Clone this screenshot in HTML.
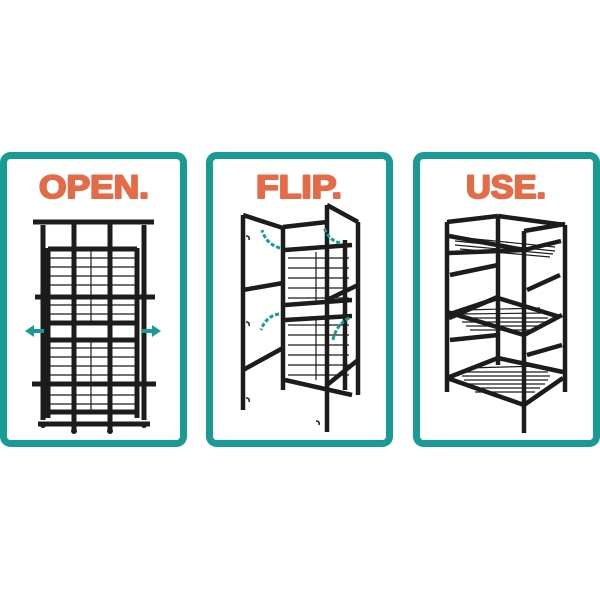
<!DOCTYPE html>
<html><head><style>
html,body{margin:0;padding:0;background:#fff;}
body{width:600px;height:600px;overflow:hidden;}
</style></head><body>
<svg width="600" height="600" viewBox="0 0 600 600" xmlns="http://www.w3.org/2000/svg">
<rect width="600" height="600" fill="#fff"/>
<g fill="none" stroke="#1a9a94" stroke-width="7">
<rect x="3.5" y="155.5" width="180" height="288" rx="7"/>
<rect x="209.5" y="155.5" width="180" height="288" rx="7"/>
<rect x="416.5" y="155.5" width="180" height="288" rx="7"/>
</g>
<g font-family="Liberation Sans, sans-serif" font-weight="bold" font-size="32" fill="#e46b48" stroke="#e46b48" stroke-width="2" text-anchor="middle" stroke-linejoin="round">
<text x="94" y="198" textLength="110" lengthAdjust="spacingAndGlyphs">OPEN.</text>
<text x="299" y="198" textLength="86" lengthAdjust="spacingAndGlyphs">FLIP.</text>
<text x="506" y="198" textLength="80" lengthAdjust="spacingAndGlyphs">USE.</text>
</g>
<!-- Panel 1 -->
<g stroke="#1c1c1c" fill="none">
<g stroke-width="1.2">
<path d="M50 258H137M50 267H137M50 276H137M50 285H137M50 305H137M50 314H137M50 348H137M50 357H137M50 366H137M50 375H137M50 395H137M50 404H137"/>
<path d="M91 250V322M91 340V412"/>
</g>
<g stroke-width="5">
<path d="M33 222H154M35 297H155M32 384H156M38 424H150M43 225V420M144 225V420M48 248V418M137 248V418M74 222V430M110 222V430"/>
<path d="M48 249H137M48 323H137M48 340H137M48 412H137"/>
</g>
</g>
<g fill="#1c1c1c"><circle cx="43" cy="425" r="3"/><circle cx="74" cy="431" r="3"/><circle cx="110" cy="431" r="3"/><circle cx="144" cy="425" r="3"/></g>
<g fill="#1a9a94">
<path d="M25 331L34 325V329H44V333H34V337Z"/>
<path d="M161 331L152 325V329H142V333H152V337Z"/>
</g>
<!-- Panel 2 -->
<g stroke="#1c1c1c" fill="none">
<g stroke-width="1.2">
<path d="M288 258H349M288 268H349M288 278H349M288 288H349M288 298H349M288 325H349M288 335H349M288 345H349M288 355H349M288 365H349M288 375H349M316 252V305M316 320V380"/>
</g>
<g stroke-width="4.5">
<path d="M243 215V410M243 215L283 228M283 228V390M243 290L283 283M243 370L283 348"/>
<path d="M283 227L327 222M285 250L352 245M285 305L352 300M285 320L352 316M285 380L352 395"/>
<path d="M327 205V432M327 205L358 222M358 222V395M327 300L358 285M327 385L358 360"/>
<path d="M345 240V390"/>
</g>
<g stroke-width="1.5"><path d="M246 236q4 0 3 4M246 322q4 0 3 4M246 398q4 0 3 4M316 421q4 0 3 4"/></g>
</g>
<g stroke="#1a9a94" stroke-width="3" fill="none" stroke-dasharray="4 2">
<path d="M280 248Q266 244 262 230"/><path d="M340 243Q328 240 324 227"/>
<path d="M279 314Q266 316 261 330"/><path d="M349 318Q336 325 333 340"/>
</g>
<!-- Panel 3 -->
<g stroke="#1c1c1c" fill="none">
<g stroke-width="1.2">
<path d="M455 237L555 247M455 241L555 251M455 245L553 254M460 249L550 257"/>
<path d="M465 310L540 308M462 314L545 313M460 318L548 318M462 322L546 322M466 326L540 326M470 330L535 330"/>
<path d="M468 368L540 366M464 372L548 372M462 376L550 376M464 380L548 380M466 384L545 384M470 388L540 388M475 392L535 392"/>
</g>
<g stroke-width="4.5">
<path d="M447 222V392M447 222L498 216M498 216V365M498 216L565 225M565 225V392"/>
<path d="M524 231V433M524 231L565 224"/>
<path d="M449 236L524 250M449 253L524 250M524 250L561 241"/>
<path d="M447 315L498 298M498 298L560 317M449 318L500 296M447 312L524 335M524 335L562 315"/>
<path d="M447 378L498 358M498 358L563 372M447 378L524 405M524 405L563 378"/>
<path d="M450 275L498 265M527 290L560 275M450 340L498 335M527 355L562 345"/>
</g>
</g>
</svg>
</body></html>
